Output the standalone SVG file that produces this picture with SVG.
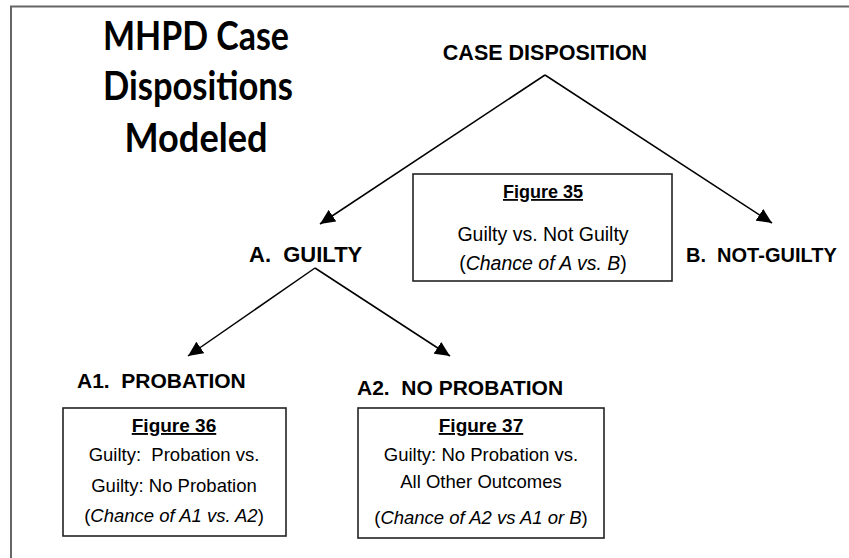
<svg xmlns="http://www.w3.org/2000/svg" width="849" height="558" viewBox="0 0 849 558">
<style>
.lbl{font-family:"Liberation Sans",Arial,sans-serif;font-weight:bold;fill:#000;white-space:pre}
.title{font-family:Lato,"Open Sans",sans-serif;font-weight:bold;font-size:40px;fill:#000;text-anchor:middle}
.box{fill:#fff;stroke:#222;stroke-width:1.6}
.ft{font-family:"Liberation Sans",Arial,sans-serif;font-weight:bold;text-decoration:underline;text-anchor:middle;fill:#000}
.bt{font-family:"Liberation Sans",Arial,sans-serif;text-anchor:middle;fill:#000;white-space:pre}
.conn{stroke:#000;stroke-width:1.5;fill:none;marker-end:url(#ah)}
</style>
<defs>
<marker id="ah" markerUnits="userSpaceOnUse" markerWidth="16" markerHeight="14" refX="15" refY="7" orient="auto">
<path d="M0,0 L15,7 L0,14 Z" fill="#000"/>
</marker>
</defs>
<rect width="849" height="558" fill="#fff"/>
<polyline points="849,6.5 11,6.5 11,558" fill="none" stroke="#666" stroke-width="2"/>
<g id="title">
<text class="title" x="196" y="50" textLength="186" lengthAdjust="spacingAndGlyphs">MHPD Case</text>
<text class="title" x="198" y="100" textLength="190" lengthAdjust="spacingAndGlyphs">Dispositions</text>
<text class="title" x="196" y="152" textLength="143" lengthAdjust="spacingAndGlyphs">Modeled</text>
</g>
<g id="connectors">
<line class="conn" x1="545" y1="75" x2="320" y2="224"/>
<line class="conn" x1="545" y1="75" x2="772" y2="223"/>
<line class="conn" x1="315" y1="268" x2="188" y2="356"/>
<line class="conn" x1="315" y1="268" x2="450" y2="356"/>
</g>
<g id="case-disposition"><text class="lbl" x="545" y="60" text-anchor="middle" font-size="21.5">CASE DISPOSITION</text></g>
<g id="guilty"><text class="lbl" x="249" y="262" font-size="22" xml:space="preserve">A.  GUILTY</text></g>
<g id="not-guilty"><text class="lbl" x="686" y="262" font-size="20" xml:space="preserve">B.  NOT-GUILTY</text></g>
<g id="probation"><text class="lbl" x="77" y="388" font-size="21" xml:space="preserve">A1.  PROBATION</text></g>
<g id="no-probation"><text class="lbl" x="357" y="395" font-size="21" xml:space="preserve">A2.  NO PROBATION</text></g>
<g id="figure35">
<rect class="box" x="413" y="174" width="259" height="107"/>
<text class="ft" x="543" y="198" font-size="18">Figure 35</text>
<text class="bt" x="543" y="241" font-size="19.5">Guilty vs. Not Guilty</text>
<text class="bt" x="543" y="270" font-size="19.5">(<tspan font-style="italic">Chance of A vs. B</tspan>)</text>
</g>
<g id="figure36">
<rect class="box" x="63" y="408" width="223" height="128"/>
<text class="ft" x="174" y="432" font-size="19">Figure 36</text>
<text class="bt" x="174" y="461" font-size="18.5" xml:space="preserve">Guilty:  Probation vs.</text>
<text class="bt" x="174" y="492" font-size="18.5">Guilty: No Probation</text>
<text class="bt" x="174" y="522" font-size="18.5">(<tspan font-style="italic">Chance of A1 vs. A2</tspan>)</text>
</g>
<g id="figure37">
<rect class="box" x="358" y="408" width="246" height="130"/>
<text class="ft" x="481" y="432" font-size="19">Figure 37</text>
<text class="bt" x="481" y="461" font-size="18.5">Guilty: No Probation vs.</text>
<text class="bt" x="481" y="488" font-size="18.5">All Other Outcomes</text>
<text class="bt" x="481" y="524" font-size="18.5">(<tspan font-style="italic">Chance of A2 vs A1 or B</tspan>)</text>
</g>
</svg>
